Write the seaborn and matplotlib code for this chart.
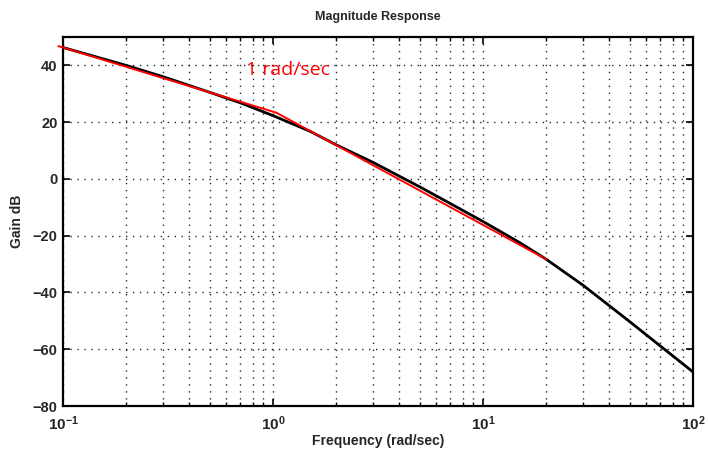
import matplotlib
matplotlib.use("Agg")
import matplotlib.pyplot as plt
import seaborn as sns
import pandas as pd
import numpy as np
from matplotlib.ticker import LogLocator, FixedLocator, FixedFormatter

# ---- data ----
freq = [0.1, 0.2, 0.3, 0.5, 0.7, 1.0, 1.5, 2.0, 3.0, 5.0, 7.0, 10.0, 15.0, 20.0, 30.0, 50.0, 70.0, 100.0]
gain_db = [46.3, 40.0, 36.0, 30.5, 26.8, 22.3, 16.8, 12.0, 5.8, -2.8, -8.7, -15.0, -22.5, -28.3, -37.5, -50.3, -58.9, -68.0]

asym_freq = [0.095, 1.04, 20.0]
asym_db = [46.8, 23.3, -28.3]

xticks = [0.1, 1, 10, 100]
xticklabels = [r"$\mathbf{10^{-1}}$", r"$\mathbf{10^{0}}$", r"$\mathbf{10^{1}}$", r"$\mathbf{10^{2}}$"]
yticks = [-80, -60, -40, -20, 0, 20, 40]
title = "Magnitude Response"
xlabel = "Frequency (rad/sec)"
ylabel = "Gain dB"
annot = "1 rad/sec"

sns.set_style("white")
plt.rcParams['font.family'] = ['Liberation Sans', 'DejaVu Sans']
plt.rcParams['mathtext.fontset'] = 'custom'
plt.rcParams['mathtext.rm'] = 'Liberation Sans'
plt.rcParams['mathtext.it'] = 'Liberation Sans:italic'
plt.rcParams['mathtext.bf'] = 'Liberation Sans:bold'

fig = plt.figure(figsize=(7.09, 4.51), dpi=100)
ax = fig.add_axes([63/709, 1-406/451, 630/709, 369/451])

df = pd.DataFrame({"freq": freq, "gain": gain_db})
da = pd.DataFrame({"freq": asym_freq, "gain": asym_db})

ax.set_xscale("log")
sns.lineplot(data=df, x="freq", y="gain", ax=ax, color="black", lw=2.0, zorder=3)
sns.lineplot(data=da, x="freq", y="gain", ax=ax, color="#ff0000", lw=1.4, zorder=4)
for ln in ax.lines[1:]:
    ln.set_clip_on(False)

ax.set_xlim(0.1, 100)
ax.set_ylim(-80, 50)
ax.yaxis.set_major_locator(FixedLocator(yticks))
ax.xaxis.set_major_locator(FixedLocator(xticks))
ax.xaxis.set_major_formatter(FixedFormatter(xticklabels))
ax.xaxis.set_minor_locator(LogLocator(base=10, subs=np.arange(2, 10)))

grid_kw = dict(color="black", linestyle=(0, (1, 4)), linewidth=1.0, alpha=0.85)
ax.grid(True, which="major", axis="both", **grid_kw)
ax.grid(True, which="minor", axis="x", **grid_kw)

ax.tick_params(which="both", direction="in", top=True, right=True, bottom=True, left=True,
               color="black")
ax.tick_params(which="major", length=5, width=1.2, labelsize=10.5, pad=4)
ax.tick_params(axis="x", which="major", labelsize=11, pad=6)
ax.tick_params(which="minor", length=3, width=1.0)
for lab in ax.get_yticklabels():
    lab.set_fontweight("bold")

for sp in ax.spines.values():
    sp.set_color("black")
    sp.set_linewidth(1.6)

ax.set_title(title, fontsize=9, fontweight="bold", pad=12)
ax.set_xlabel(xlabel, fontsize=10, fontweight="bold", labelpad=1)
ax.set_ylabel(ylabel, fontsize=10, fontweight="bold", labelpad=6)

ax.text(0.74, 38.2, annot, color="#ff0000", fontsize=14, family=["Open Sans", "DejaVu Sans"],
        ha="left", va="center")

fig.savefig("out.png", dpi=100)
